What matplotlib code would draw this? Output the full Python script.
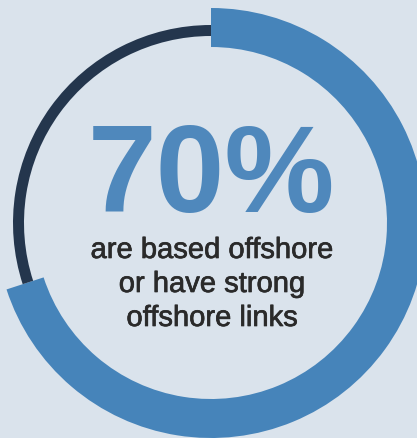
import matplotlib
matplotlib.use("Agg")
import matplotlib.pyplot as plt
import matplotlib.patheffects as pe

# Data
shares = [70, 30]            # offshore-linked vs. other (%)
headline = "70%"
caption_lines = ["are based offshore", "or have strong", "offshore links"]

BG = "#dae3ec"
BLUE = "#4684ba"
NAVY = "#24364d"
TEXT_BLUE = "#4f88bc"
TEXT_DARK = "#2a2a2a"

W, H = 417, 439
fig = plt.figure(figsize=(W / 100, H / 100), dpi=100)
fig.patch.set_facecolor(BG)
ax = fig.add_axes([0, 0, 1, 1])
ax.set_facecolor(BG)

cx, cy = 211, H - 224

# thick blue arc for the 70% share
ax.pie(shares, center=(cx, cy), radius=215, startangle=90, counterclock=False,
       colors=[BLUE, "none"], wedgeprops=dict(width=39, linewidth=0), frame=True)
# thin navy arc for the remaining share
ax.pie(shares, center=(cx, cy), radius=198, startangle=90, counterclock=False,
       colors=["none", NAVY], wedgeprops=dict(width=11, linewidth=0), frame=True)

ax.set_xlim(0, W)
ax.set_ylim(0, H)
ax.set_aspect("equal")
ax.axis("off")

ax.text(211, H - 212, headline, ha="center", va="baseline", fontsize=89,
        fontweight="bold", color=TEXT_BLUE, family="Liberation Sans")

baselines = [259, 293, 327]
for line, yb in zip(caption_lines, baselines):
    ax.text(212, H - yb, line, ha="center", va="baseline", fontsize=21,
            color=TEXT_DARK, family="Liberation Sans",
            path_effects=[pe.withStroke(linewidth=0.5, foreground=TEXT_DARK)])

fig.savefig("out.png", dpi=100, facecolor=BG)
